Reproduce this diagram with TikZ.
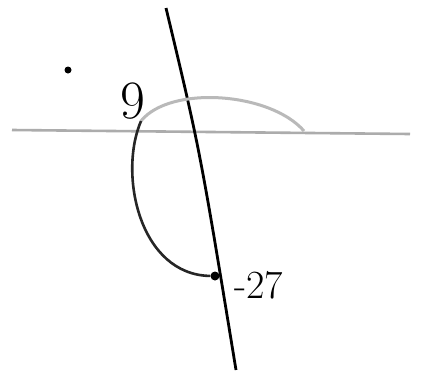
\documentclass[tikz,border=0pt]{standalone}
\begin{document}
\begin{tikzpicture}[x=1pt,y=-1pt,
  axis/.style={line width=2.6pt,draw=gray!65},
  vline/.style={line width=2.8pt,draw=black},
  curve/.style={line width=2.6pt,draw=black!85},
  arc/.style={line width=3pt,draw=gray!55},
  lbl/.style={inner sep=0pt}]
\useasboundingbox (0,0) rectangle (425,383);
\fill[white] (0,0) rectangle (425,383);
% axes
\coordinate (hl) at (12,130);
\coordinate (hr) at (410,134);
\coordinate (vt) at (166,8);
\coordinate (vb) at (236,370);
\draw[axis] (hl) -- (hr);
\draw[vline] (vt) .. controls (200,150) .. (vb);
% labels and points
\node[lbl,font=\fontsize{54}{56}\selectfont] (nine) at (133,101) {9};
\node[circle,fill=black,inner sep=0pt,minimum size=9pt] (pt) at (215,276) {};
\node[lbl,anchor=west,font=\fontsize{40}{42}\selectfont] (val) at (234,285) {-27};
\node[circle,fill=black,inner sep=0pt,minimum size=7pt] (dot) at (68,70) {};
\coordinate (arcend) at (304,131);
\coordinate (start) at (141,121);
% gray arc
\draw[arc] (start) .. controls (170,85) and (270,92) .. (arcend);
% black curve
\draw[curve] (start) .. controls (118,175) and (140,275) .. (pt);
\end{tikzpicture}
\end{document}
